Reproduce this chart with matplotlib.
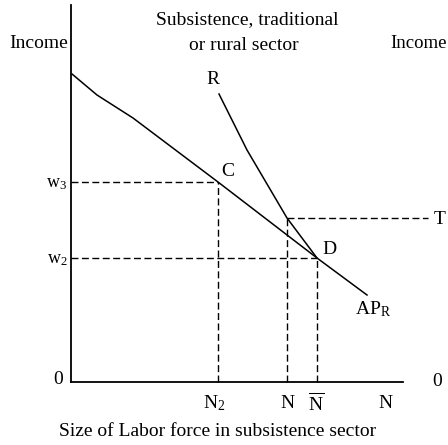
import matplotlib.pyplot as plt

plt.rcParams['font.family'] = 'Liberation Serif'
plt.rcParams['mathtext.fontset'] = 'custom'
plt.rcParams['mathtext.rm'] = 'Liberation Serif'
plt.rcParams['mathtext.it'] = 'Liberation Serif'

# curves (origin at axes corner)
ap_x = [1, 26, 62, 147, 246, 296]
ap_y = [308, 287, 264, 200, 124, 87]
r_x = [148, 161, 176, 216, 246]
r_y = [288, 262, 232, 164, 124]

# key levels
w3, w2, t_level = 200, 124, 164
n2, n1, nbar = 147, 216, 246
t_end = 357
x_max, y_max = 332, 377

x_labels = ['$\\mathrm{N_2}$', 'N', '$\\overline{\\mathrm{N}}$', 'N']
x_label_pos = [143, 216, 245, 314]

fig = plt.figure(figsize=(4.48, 4.45), dpi=100)
ax = fig.add_axes([0, 0, 1, 1])
ax.set_xlim(-71, 377)
ax.set_ylim(-63, 382)
ax.axis('off')

# axes
ax.plot([0, 0], [0, y_max], color='black', lw=1.3)
ax.plot([0, x_max], [0, 0], color='black', lw=1.3)

# curves
ax.plot(ap_x, ap_y, color='black', lw=1.1)
ax.plot(r_x, r_y, color='black', lw=1.1)

# dashed guides
dash = dict(color='black', lw=1.0, dashes=(5, 2.5))
ax.plot([0, n2], [w3, w3], **dash)
ax.plot([0, nbar], [w2, w2], **dash)
ax.plot([n1, t_end], [t_level, t_level], **dash)
ax.plot([n2, n2], [0, w3], **dash)
ax.plot([n1, n1], [0, t_level], **dash)
ax.plot([nbar, nbar], [0, w2], **dash)

fs = 14
ax.text(-32, 338, 'Income', fontsize=fs, ha='center', va='center')
ax.text(376, 339, 'Income', fontsize=13.5, ha='right', va='center')
ax.text(176, 362, 'Subsistence, traditional', fontsize=fs, ha='center', va='center')
ax.text(173, 337, 'or rural sector', fontsize=fs, ha='center', va='center')
ax.text(142, 302, 'R', fontsize=fs, ha='center', va='center')
ax.text(150, 210, 'C', fontsize=fs, ha='left', va='center')
ax.text(251, 132, 'D', fontsize=fs, ha='left', va='center')
ax.text(369, 163, 'T', fontsize=fs, ha='center', va='center')
ax.text(284, 73, '$\\mathrm{AP_R}$', fontsize=fs, ha='left', va='center')
ax.text(-14, 198, '$\\mathrm{w_3}$', fontsize=fs - 1, ha='center', va='center')
ax.text(-14, 123, '$\\mathrm{w_2}$', fontsize=fs - 1, ha='center', va='center')
ax.text(-13, 3, '0', fontsize=fs, ha='center', va='center')
ax.text(366, 0, '0', fontsize=fs, ha='center', va='center')
for lab, xp in zip(x_labels, x_label_pos):
    ax.text(xp, -21, lab, fontsize=fs, ha='center', va='center')
ax.text(147, -50, 'Size of Labor force in subsistence sector', fontsize=fs,
        ha='center', va='center')

fig.savefig('out.png', dpi=100)
